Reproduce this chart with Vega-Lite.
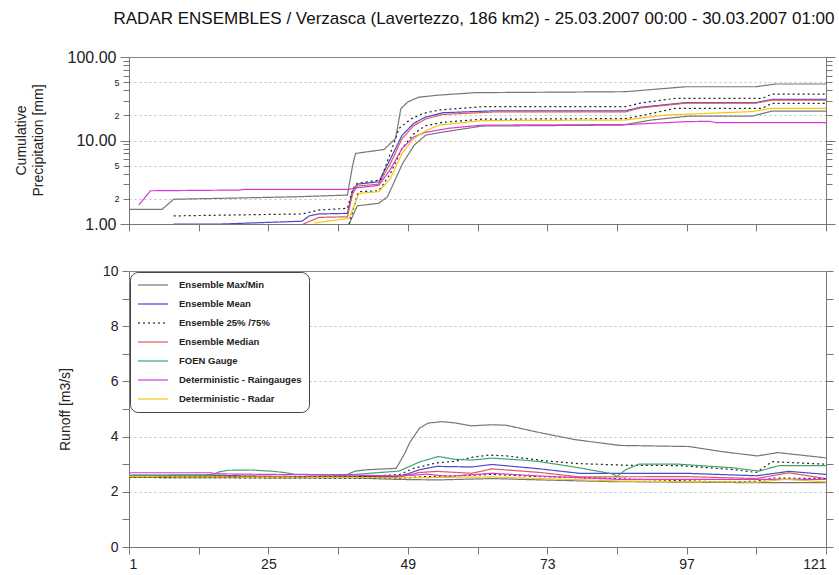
{
  "$schema": "https://vega.github.io/schema/vega-lite/v6.json",
  "background": "white",
  "padding": {"left": 13, "top": 9, "right": 5, "bottom": 5},
  "title": {"text": "RADAR ENSEMBLES / Verzasca (Lavertezzo, 186 km2) - 25.03.2007 00:00 - 30.03.2007 01:00", "fontSize": 17, "font": "Liberation Sans", "fontWeight": "normal", "color": "#111", "anchor": "start", "dx": 100, "offset": 21},
  "config": {
    "font": "Liberation Sans",
    "view": {"stroke": "#888"},
    "axis": {"domainColor": "#777", "tickColor": "#777", "labelColor": "#222", "labelFont": "Liberation Sans", "titleFont": "Liberation Sans", "titleFontWeight": "normal", "titleColor": "#222", "gridColor": "#c0c0c0", "gridDash": [2, 3]}
  },
  "datasets": {
    "pre": [
      {"s": "Ensemble Max/Min", "l": "max", "x": 1, "y": 1.5},
      {"s": "Ensemble Max/Min", "l": "max", "x": 6.7, "y": 1.5},
      {"s": "Ensemble Max/Min", "l": "max", "x": 8.7, "y": 1.98},
      {"s": "Ensemble Max/Min", "l": "max", "x": 20, "y": 2.05},
      {"s": "Ensemble Max/Min", "l": "max", "x": 30, "y": 2.12},
      {"s": "Ensemble Max/Min", "l": "max", "x": 38.6, "y": 2.22},
      {"s": "Ensemble Max/Min", "l": "max", "x": 39.5, "y": 5},
      {"s": "Ensemble Max/Min", "l": "max", "x": 40, "y": 7},
      {"s": "Ensemble Max/Min", "l": "max", "x": 44.9, "y": 7.8},
      {"s": "Ensemble Max/Min", "l": "max", "x": 46.9, "y": 10.6},
      {"s": "Ensemble Max/Min", "l": "max", "x": 47.8, "y": 24},
      {"s": "Ensemble Max/Min", "l": "max", "x": 49, "y": 29},
      {"s": "Ensemble Max/Min", "l": "max", "x": 50.9, "y": 33},
      {"s": "Ensemble Max/Min", "l": "max", "x": 54.4, "y": 35},
      {"s": "Ensemble Max/Min", "l": "max", "x": 60.7, "y": 37.4},
      {"s": "Ensemble Max/Min", "l": "max", "x": 86.5, "y": 38.4},
      {"s": "Ensemble Max/Min", "l": "max", "x": 96.8, "y": 44},
      {"s": "Ensemble Max/Min", "l": "max", "x": 108.9, "y": 44},
      {"s": "Ensemble Max/Min", "l": "max", "x": 112.3, "y": 47.5},
      {"s": "Ensemble Max/Min", "l": "max", "x": 121, "y": 47.5},
      {"s": "Ensemble Max/Min", "l": "min", "x": 38.9, "y": 1.0},
      {"s": "Ensemble Max/Min", "l": "min", "x": 40.3, "y": 1.65},
      {"s": "Ensemble Max/Min", "l": "min", "x": 44, "y": 1.77},
      {"s": "Ensemble Max/Min", "l": "min", "x": 45.5, "y": 2.12},
      {"s": "Ensemble Max/Min", "l": "min", "x": 48.1, "y": 5.3},
      {"s": "Ensemble Max/Min", "l": "min", "x": 50.1, "y": 8.8},
      {"s": "Ensemble Max/Min", "l": "min", "x": 52.1, "y": 11.6},
      {"s": "Ensemble Max/Min", "l": "min", "x": 54.4, "y": 12.4},
      {"s": "Ensemble Max/Min", "l": "min", "x": 57.2, "y": 13.3},
      {"s": "Ensemble Max/Min", "l": "min", "x": 61.8, "y": 14.9},
      {"s": "Ensemble Max/Min", "l": "min", "x": 85.9, "y": 15.3},
      {"s": "Ensemble Max/Min", "l": "min", "x": 91, "y": 17.6},
      {"s": "Ensemble Max/Min", "l": "min", "x": 97.4, "y": 19.6},
      {"s": "Ensemble Max/Min", "l": "min", "x": 108.3, "y": 19.6},
      {"s": "Ensemble Max/Min", "l": "min", "x": 111.7, "y": 22.5},
      {"s": "Ensemble Max/Min", "l": "min", "x": 121, "y": 22.5},
      {"s": "Ensemble Mean", "l": "mean", "x": 8.7, "y": 1.0},
      {"s": "Ensemble Mean", "l": "mean", "x": 17, "y": 1.0},
      {"s": "Ensemble Mean", "l": "mean", "x": 30.8, "y": 1.08},
      {"s": "Ensemble Mean", "l": "mean", "x": 32, "y": 1.25},
      {"s": "Ensemble Mean", "l": "mean", "x": 33.7, "y": 1.32},
      {"s": "Ensemble Mean", "l": "mean", "x": 38.6, "y": 1.34},
      {"s": "Ensemble Mean", "l": "mean", "x": 39.5, "y": 2.5},
      {"s": "Ensemble Mean", "l": "mean", "x": 40.3, "y": 3.0},
      {"s": "Ensemble Mean", "l": "mean", "x": 44, "y": 3.2},
      {"s": "Ensemble Mean", "l": "mean", "x": 46, "y": 6},
      {"s": "Ensemble Mean", "l": "mean", "x": 48, "y": 11.5},
      {"s": "Ensemble Mean", "l": "mean", "x": 50, "y": 16},
      {"s": "Ensemble Mean", "l": "mean", "x": 52, "y": 19},
      {"s": "Ensemble Mean", "l": "mean", "x": 55, "y": 21.5},
      {"s": "Ensemble Mean", "l": "mean", "x": 64, "y": 22.7},
      {"s": "Ensemble Mean", "l": "mean", "x": 86.5, "y": 22.7},
      {"s": "Ensemble Mean", "l": "mean", "x": 89, "y": 25},
      {"s": "Ensemble Mean", "l": "mean", "x": 96.8, "y": 28.4},
      {"s": "Ensemble Mean", "l": "mean", "x": 108.9, "y": 28.4},
      {"s": "Ensemble Mean", "l": "mean", "x": 111.7, "y": 31},
      {"s": "Ensemble Mean", "l": "mean", "x": 121, "y": 31},
      {"s": "Ensemble Median", "l": "med", "x": 31, "y": 1.0},
      {"s": "Ensemble Median", "l": "med", "x": 33.7, "y": 1.2},
      {"s": "Ensemble Median", "l": "med", "x": 38.6, "y": 1.22},
      {"s": "Ensemble Median", "l": "med", "x": 39.5, "y": 2.3},
      {"s": "Ensemble Median", "l": "med", "x": 40.3, "y": 2.85},
      {"s": "Ensemble Median", "l": "med", "x": 44, "y": 3.0},
      {"s": "Ensemble Median", "l": "med", "x": 46, "y": 5.3},
      {"s": "Ensemble Median", "l": "med", "x": 48, "y": 10.5},
      {"s": "Ensemble Median", "l": "med", "x": 50, "y": 15},
      {"s": "Ensemble Median", "l": "med", "x": 52, "y": 18},
      {"s": "Ensemble Median", "l": "med", "x": 55, "y": 20.5},
      {"s": "Ensemble Median", "l": "med", "x": 64, "y": 22},
      {"s": "Ensemble Median", "l": "med", "x": 86.5, "y": 22},
      {"s": "Ensemble Median", "l": "med", "x": 89, "y": 24.5},
      {"s": "Ensemble Median", "l": "med", "x": 96.8, "y": 28},
      {"s": "Ensemble Median", "l": "med", "x": 108.9, "y": 28},
      {"s": "Ensemble Median", "l": "med", "x": 111.7, "y": 30.5},
      {"s": "Ensemble Median", "l": "med", "x": 121, "y": 30.5},
      {"s": "Ensemble 25% /75%", "l": "p75", "x": 8.7, "y": 1.25},
      {"s": "Ensemble 25% /75%", "l": "p75", "x": 30.8, "y": 1.32},
      {"s": "Ensemble 25% /75%", "l": "p75", "x": 33.7, "y": 1.47},
      {"s": "Ensemble 25% /75%", "l": "p75", "x": 38.6, "y": 1.54},
      {"s": "Ensemble 25% /75%", "l": "p75", "x": 39.5, "y": 2.6},
      {"s": "Ensemble 25% /75%", "l": "p75", "x": 40.3, "y": 3.07},
      {"s": "Ensemble 25% /75%", "l": "p75", "x": 44.3, "y": 3.37},
      {"s": "Ensemble 25% /75%", "l": "p75", "x": 46, "y": 7},
      {"s": "Ensemble 25% /75%", "l": "p75", "x": 47.5, "y": 14},
      {"s": "Ensemble 25% /75%", "l": "p75", "x": 49.5, "y": 18},
      {"s": "Ensemble 25% /75%", "l": "p75", "x": 51.5, "y": 21},
      {"s": "Ensemble 25% /75%", "l": "p75", "x": 54.4, "y": 23.2},
      {"s": "Ensemble 25% /75%", "l": "p75", "x": 61.8, "y": 25.4},
      {"s": "Ensemble 25% /75%", "l": "p75", "x": 86.5, "y": 25.4},
      {"s": "Ensemble 25% /75%", "l": "p75", "x": 88.8, "y": 27.9},
      {"s": "Ensemble 25% /75%", "l": "p75", "x": 95.1, "y": 32},
      {"s": "Ensemble 25% /75%", "l": "p75", "x": 110, "y": 32},
      {"s": "Ensemble 25% /75%", "l": "p75", "x": 111.7, "y": 36},
      {"s": "Ensemble 25% /75%", "l": "p75", "x": 121, "y": 36},
      {"s": "Ensemble 25% /75%", "l": "p25", "x": 38.9, "y": 1.0},
      {"s": "Ensemble 25% /75%", "l": "p25", "x": 40.3, "y": 2.2},
      {"s": "Ensemble 25% /75%", "l": "p25", "x": 40.6, "y": 2.44},
      {"s": "Ensemble 25% /75%", "l": "p25", "x": 44, "y": 2.5},
      {"s": "Ensemble 25% /75%", "l": "p25", "x": 46, "y": 4},
      {"s": "Ensemble 25% /75%", "l": "p25", "x": 48, "y": 8},
      {"s": "Ensemble 25% /75%", "l": "p25", "x": 50, "y": 12},
      {"s": "Ensemble 25% /75%", "l": "p25", "x": 52, "y": 15},
      {"s": "Ensemble 25% /75%", "l": "p25", "x": 55, "y": 16.5},
      {"s": "Ensemble 25% /75%", "l": "p25", "x": 61.8, "y": 18},
      {"s": "Ensemble 25% /75%", "l": "p25", "x": 86.5, "y": 18.3},
      {"s": "Ensemble 25% /75%", "l": "p25", "x": 88.8, "y": 19.6},
      {"s": "Ensemble 25% /75%", "l": "p25", "x": 95.1, "y": 24.3},
      {"s": "Ensemble 25% /75%", "l": "p25", "x": 110, "y": 24.3},
      {"s": "Ensemble 25% /75%", "l": "p25", "x": 111.7, "y": 27.9},
      {"s": "Ensemble 25% /75%", "l": "p25", "x": 121, "y": 27.9},
      {"s": "Deterministic - Raingauges", "l": "rg", "x": 2.7, "y": 1.69},
      {"s": "Deterministic - Raingauges", "l": "rg", "x": 4.7, "y": 2.5},
      {"s": "Deterministic - Raingauges", "l": "rg", "x": 19.9, "y": 2.55},
      {"s": "Deterministic - Raingauges", "l": "rg", "x": 21, "y": 2.6},
      {"s": "Deterministic - Raingauges", "l": "rg", "x": 38.9, "y": 2.6},
      {"s": "Deterministic - Raingauges", "l": "rg", "x": 40, "y": 2.7},
      {"s": "Deterministic - Raingauges", "l": "rg", "x": 44, "y": 2.9},
      {"s": "Deterministic - Raingauges", "l": "rg", "x": 46, "y": 4.5},
      {"s": "Deterministic - Raingauges", "l": "rg", "x": 48, "y": 8},
      {"s": "Deterministic - Raingauges", "l": "rg", "x": 50, "y": 11},
      {"s": "Deterministic - Raingauges", "l": "rg", "x": 52, "y": 12.5},
      {"s": "Deterministic - Raingauges", "l": "rg", "x": 56, "y": 14},
      {"s": "Deterministic - Raingauges", "l": "rg", "x": 61.8, "y": 15.3},
      {"s": "Deterministic - Raingauges", "l": "rg", "x": 86.5, "y": 15.5},
      {"s": "Deterministic - Raingauges", "l": "rg", "x": 96.8, "y": 16.8},
      {"s": "Deterministic - Raingauges", "l": "rg", "x": 101, "y": 17},
      {"s": "Deterministic - Raingauges", "l": "rg", "x": 102, "y": 16.4},
      {"s": "Deterministic - Raingauges", "l": "rg", "x": 121, "y": 16.4},
      {"s": "Deterministic - Radar", "l": "rd", "x": 32.9, "y": 1.03},
      {"s": "Deterministic - Radar", "l": "rd", "x": 38.9, "y": 1.17},
      {"s": "Deterministic - Radar", "l": "rd", "x": 40.6, "y": 2.33},
      {"s": "Deterministic - Radar", "l": "rd", "x": 44, "y": 2.44},
      {"s": "Deterministic - Radar", "l": "rd", "x": 46, "y": 3.5},
      {"s": "Deterministic - Radar", "l": "rd", "x": 48, "y": 7},
      {"s": "Deterministic - Radar", "l": "rd", "x": 50, "y": 10.5},
      {"s": "Deterministic - Radar", "l": "rd", "x": 52, "y": 13},
      {"s": "Deterministic - Radar", "l": "rd", "x": 54.4, "y": 15.3},
      {"s": "Deterministic - Radar", "l": "rd", "x": 61.8, "y": 17.3},
      {"s": "Deterministic - Radar", "l": "rd", "x": 86.5, "y": 17.6},
      {"s": "Deterministic - Radar", "l": "rd", "x": 93.4, "y": 20.2},
      {"s": "Deterministic - Radar", "l": "rd", "x": 108.3, "y": 22.2},
      {"s": "Deterministic - Radar", "l": "rd", "x": 111.7, "y": 24.3},
      {"s": "Deterministic - Radar", "l": "rd", "x": 121, "y": 24.3}
    ],
    "run": [
      {"s": "Ensemble Max/Min", "l": "max", "x": 1, "y": 2.6},
      {"s": "Ensemble Max/Min", "l": "max", "x": 15, "y": 2.6},
      {"s": "Ensemble Max/Min", "l": "max", "x": 30, "y": 2.55},
      {"s": "Ensemble Max/Min", "l": "max", "x": 38, "y": 2.58},
      {"s": "Ensemble Max/Min", "l": "max", "x": 40, "y": 2.75},
      {"s": "Ensemble Max/Min", "l": "max", "x": 42, "y": 2.8},
      {"s": "Ensemble Max/Min", "l": "max", "x": 47, "y": 2.85},
      {"s": "Ensemble Max/Min", "l": "max", "x": 48.5, "y": 3.4},
      {"s": "Ensemble Max/Min", "l": "max", "x": 49.3, "y": 3.77},
      {"s": "Ensemble Max/Min", "l": "max", "x": 51, "y": 4.3},
      {"s": "Ensemble Max/Min", "l": "max", "x": 52.5, "y": 4.49},
      {"s": "Ensemble Max/Min", "l": "max", "x": 54.9, "y": 4.54},
      {"s": "Ensemble Max/Min", "l": "max", "x": 57, "y": 4.5},
      {"s": "Ensemble Max/Min", "l": "max", "x": 59.9, "y": 4.39},
      {"s": "Ensemble Max/Min", "l": "max", "x": 63.5, "y": 4.43},
      {"s": "Ensemble Max/Min", "l": "max", "x": 66, "y": 4.41},
      {"s": "Ensemble Max/Min", "l": "max", "x": 71.8, "y": 4.14},
      {"s": "Ensemble Max/Min", "l": "max", "x": 77.8, "y": 3.89},
      {"s": "Ensemble Max/Min", "l": "max", "x": 85.5, "y": 3.68},
      {"s": "Ensemble Max/Min", "l": "max", "x": 97.4, "y": 3.64},
      {"s": "Ensemble Max/Min", "l": "max", "x": 103.3, "y": 3.45},
      {"s": "Ensemble Max/Min", "l": "max", "x": 109.2, "y": 3.3},
      {"s": "Ensemble Max/Min", "l": "max", "x": 112.7, "y": 3.42},
      {"s": "Ensemble Max/Min", "l": "max", "x": 121, "y": 3.23},
      {"s": "Ensemble Max/Min", "l": "min", "x": 1, "y": 2.52},
      {"s": "Ensemble Max/Min", "l": "min", "x": 40, "y": 2.5},
      {"s": "Ensemble Max/Min", "l": "min", "x": 47, "y": 2.45},
      {"s": "Ensemble Max/Min", "l": "min", "x": 54, "y": 2.43},
      {"s": "Ensemble Max/Min", "l": "min", "x": 63.5, "y": 2.48},
      {"s": "Ensemble Max/Min", "l": "min", "x": 72, "y": 2.43},
      {"s": "Ensemble Max/Min", "l": "min", "x": 84, "y": 2.37},
      {"s": "Ensemble Max/Min", "l": "min", "x": 109, "y": 2.33},
      {"s": "Ensemble Max/Min", "l": "min", "x": 121, "y": 2.33},
      {"s": "Ensemble Mean", "l": "mean", "x": 1, "y": 2.56},
      {"s": "Ensemble Mean", "l": "mean", "x": 40, "y": 2.55},
      {"s": "Ensemble Mean", "l": "mean", "x": 47, "y": 2.55},
      {"s": "Ensemble Mean", "l": "mean", "x": 49, "y": 2.65},
      {"s": "Ensemble Mean", "l": "mean", "x": 51, "y": 2.8},
      {"s": "Ensemble Mean", "l": "mean", "x": 54, "y": 2.92},
      {"s": "Ensemble Mean", "l": "mean", "x": 60, "y": 2.9},
      {"s": "Ensemble Mean", "l": "mean", "x": 63.5, "y": 2.99},
      {"s": "Ensemble Mean", "l": "mean", "x": 71.8, "y": 2.83},
      {"s": "Ensemble Mean", "l": "mean", "x": 78.5, "y": 2.67},
      {"s": "Ensemble Mean", "l": "mean", "x": 97, "y": 2.67},
      {"s": "Ensemble Mean", "l": "mean", "x": 109, "y": 2.58},
      {"s": "Ensemble Mean", "l": "mean", "x": 114.6, "y": 2.74},
      {"s": "Ensemble Mean", "l": "mean", "x": 121, "y": 2.63},
      {"s": "Ensemble Median", "l": "med", "x": 1, "y": 2.55},
      {"s": "Ensemble Median", "l": "med", "x": 47, "y": 2.52},
      {"s": "Ensemble Median", "l": "med", "x": 49, "y": 2.6},
      {"s": "Ensemble Median", "l": "med", "x": 51, "y": 2.7},
      {"s": "Ensemble Median", "l": "med", "x": 54, "y": 2.74},
      {"s": "Ensemble Median", "l": "med", "x": 60, "y": 2.67},
      {"s": "Ensemble Median", "l": "med", "x": 63.5, "y": 2.83},
      {"s": "Ensemble Median", "l": "med", "x": 71.8, "y": 2.7},
      {"s": "Ensemble Median", "l": "med", "x": 78.5, "y": 2.54},
      {"s": "Ensemble Median", "l": "med", "x": 97, "y": 2.55},
      {"s": "Ensemble Median", "l": "med", "x": 109, "y": 2.48},
      {"s": "Ensemble Median", "l": "med", "x": 114.6, "y": 2.69},
      {"s": "Ensemble Median", "l": "med", "x": 121, "y": 2.48},
      {"s": "Ensemble 25% /75%", "l": "p75", "x": 1, "y": 2.56},
      {"s": "Ensemble 25% /75%", "l": "p75", "x": 40, "y": 2.55},
      {"s": "Ensemble 25% /75%", "l": "p75", "x": 47.5, "y": 2.62},
      {"s": "Ensemble 25% /75%", "l": "p75", "x": 50, "y": 2.85},
      {"s": "Ensemble 25% /75%", "l": "p75", "x": 54, "y": 3.05},
      {"s": "Ensemble 25% /75%", "l": "p75", "x": 57, "y": 3.1},
      {"s": "Ensemble 25% /75%", "l": "p75", "x": 60, "y": 3.25},
      {"s": "Ensemble 25% /75%", "l": "p75", "x": 63, "y": 3.33},
      {"s": "Ensemble 25% /75%", "l": "p75", "x": 66, "y": 3.3},
      {"s": "Ensemble 25% /75%", "l": "p75", "x": 72.7, "y": 3.12},
      {"s": "Ensemble 25% /75%", "l": "p75", "x": 78.5, "y": 3.02},
      {"s": "Ensemble 25% /75%", "l": "p75", "x": 87, "y": 2.96},
      {"s": "Ensemble 25% /75%", "l": "p75", "x": 95.7, "y": 2.95},
      {"s": "Ensemble 25% /75%", "l": "p75", "x": 104.8, "y": 2.81},
      {"s": "Ensemble 25% /75%", "l": "p75", "x": 109, "y": 2.7},
      {"s": "Ensemble 25% /75%", "l": "p75", "x": 111.7, "y": 3.09},
      {"s": "Ensemble 25% /75%", "l": "p75", "x": 121, "y": 3.0},
      {"s": "Ensemble 25% /75%", "l": "p25", "x": 1, "y": 2.52},
      {"s": "Ensemble 25% /75%", "l": "p25", "x": 47.5, "y": 2.49},
      {"s": "Ensemble 25% /75%", "l": "p25", "x": 52, "y": 2.55},
      {"s": "Ensemble 25% /75%", "l": "p25", "x": 56, "y": 2.57},
      {"s": "Ensemble 25% /75%", "l": "p25", "x": 63.5, "y": 2.63},
      {"s": "Ensemble 25% /75%", "l": "p25", "x": 72, "y": 2.55},
      {"s": "Ensemble 25% /75%", "l": "p25", "x": 84, "y": 2.48},
      {"s": "Ensemble 25% /75%", "l": "p25", "x": 103, "y": 2.36},
      {"s": "Ensemble 25% /75%", "l": "p25", "x": 109, "y": 2.38},
      {"s": "Ensemble 25% /75%", "l": "p25", "x": 112, "y": 2.5},
      {"s": "Ensemble 25% /75%", "l": "p25", "x": 121, "y": 2.48},
      {"s": "FOEN Gauge", "l": "foen", "x": 1, "y": 2.6},
      {"s": "FOEN Gauge", "l": "foen", "x": 15.3, "y": 2.62},
      {"s": "FOEN Gauge", "l": "foen", "x": 16.5, "y": 2.72},
      {"s": "FOEN Gauge", "l": "foen", "x": 18, "y": 2.78},
      {"s": "FOEN Gauge", "l": "foen", "x": 22, "y": 2.79},
      {"s": "FOEN Gauge", "l": "foen", "x": 26, "y": 2.74},
      {"s": "FOEN Gauge", "l": "foen", "x": 28, "y": 2.69},
      {"s": "FOEN Gauge", "l": "foen", "x": 29.7, "y": 2.63},
      {"s": "FOEN Gauge", "l": "foen", "x": 39.4, "y": 2.62},
      {"s": "FOEN Gauge", "l": "foen", "x": 43, "y": 2.68},
      {"s": "FOEN Gauge", "l": "foen", "x": 47.5, "y": 2.75},
      {"s": "FOEN Gauge", "l": "foen", "x": 51, "y": 3.08},
      {"s": "FOEN Gauge", "l": "foen", "x": 54.3, "y": 3.28},
      {"s": "FOEN Gauge", "l": "foen", "x": 57, "y": 3.18},
      {"s": "FOEN Gauge", "l": "foen", "x": 60, "y": 3.15},
      {"s": "FOEN Gauge", "l": "foen", "x": 63.5, "y": 3.22},
      {"s": "FOEN Gauge", "l": "foen", "x": 68.8, "y": 3.15},
      {"s": "FOEN Gauge", "l": "foen", "x": 71.5, "y": 3.1},
      {"s": "FOEN Gauge", "l": "foen", "x": 78.5, "y": 2.87},
      {"s": "FOEN Gauge", "l": "foen", "x": 84.2, "y": 2.65},
      {"s": "FOEN Gauge", "l": "foen", "x": 85, "y": 2.55},
      {"s": "FOEN Gauge", "l": "foen", "x": 86.5, "y": 2.8},
      {"s": "FOEN Gauge", "l": "foen", "x": 88.8, "y": 3.0},
      {"s": "FOEN Gauge", "l": "foen", "x": 95.7, "y": 3.0},
      {"s": "FOEN Gauge", "l": "foen", "x": 104.9, "y": 2.87},
      {"s": "FOEN Gauge", "l": "foen", "x": 109.5, "y": 2.75},
      {"s": "FOEN Gauge", "l": "foen", "x": 112.9, "y": 2.95},
      {"s": "FOEN Gauge", "l": "foen", "x": 121, "y": 2.95},
      {"s": "Deterministic - Raingauges", "l": "rg", "x": 1, "y": 2.69},
      {"s": "Deterministic - Raingauges", "l": "rg", "x": 15, "y": 2.69},
      {"s": "Deterministic - Raingauges", "l": "rg", "x": 16, "y": 2.65},
      {"s": "Deterministic - Raingauges", "l": "rg", "x": 30, "y": 2.62},
      {"s": "Deterministic - Raingauges", "l": "rg", "x": 40, "y": 2.6},
      {"s": "Deterministic - Raingauges", "l": "rg", "x": 47, "y": 2.58},
      {"s": "Deterministic - Raingauges", "l": "rg", "x": 50, "y": 2.6},
      {"s": "Deterministic - Raingauges", "l": "rg", "x": 52.2, "y": 2.64},
      {"s": "Deterministic - Raingauges", "l": "rg", "x": 56, "y": 2.56},
      {"s": "Deterministic - Raingauges", "l": "rg", "x": 63.5, "y": 2.67},
      {"s": "Deterministic - Raingauges", "l": "rg", "x": 71.8, "y": 2.57},
      {"s": "Deterministic - Raingauges", "l": "rg", "x": 85.5, "y": 2.45},
      {"s": "Deterministic - Raingauges", "l": "rg", "x": 121, "y": 2.45},
      {"s": "Deterministic - Radar", "l": "rd", "x": 1, "y": 2.55},
      {"s": "Deterministic - Radar", "l": "rd", "x": 40, "y": 2.52},
      {"s": "Deterministic - Radar", "l": "rd", "x": 47, "y": 2.5},
      {"s": "Deterministic - Radar", "l": "rd", "x": 54, "y": 2.52},
      {"s": "Deterministic - Radar", "l": "rd", "x": 63.5, "y": 2.54},
      {"s": "Deterministic - Radar", "l": "rd", "x": 72, "y": 2.48},
      {"s": "Deterministic - Radar", "l": "rd", "x": 85.5, "y": 2.39},
      {"s": "Deterministic - Radar", "l": "rd", "x": 109, "y": 2.35},
      {"s": "Deterministic - Radar", "l": "rd", "x": 114, "y": 2.45},
      {"s": "Deterministic - Radar", "l": "rd", "x": 121, "y": 2.36}
    ]
  },
  "spacing": 30,
  "resolve": {"scale": {"color": "independent", "strokeDash": "independent"}, "legend": {"color": "independent", "strokeDash": "independent"}},
  "vconcat": [
    {
      "width": 697,
      "height": 167,
      "data": {"name": "pre"},
      "layer": [
        {
          "mark": {"type": "line", "clip": true, "strokeWidth": 1.2},
          "encoding": {
            "x": {"field": "x", "type": "quantitative", "scale": {"domain": [1, 121], "nice": false, "zero": false},
              "axis": {"values": [1,7,13,19,25,31,37,43,49,55,61,67,73,79,85,91,97,103,109,115,121], "labels": false, "tickSize": 7, "grid": false, "title": null}},
            "y": {"field": "y", "type": "quantitative", "scale": {"type": "log", "domain": [1, 100], "nice": false},
              "axis": {"values": [1,2,3,4,5,6,7,8,9,10,20,30,40,50,60,70,80,90,100],
                "labelExpr": "datum.value==1||datum.value==10||datum.value==100 ? format(datum.value,'.2f') : (datum.value==2||datum.value==20 ? '2' : (datum.value==5||datum.value==50 ? '5' : ''))",
                "labelFontSize": {"condition": {"test": "datum.value==1||datum.value==10||datum.value==100", "value": 16}, "value": 9},
                "tickSize": {"condition": {"test": "datum.value==1||datum.value==10||datum.value==100", "value": 9}, "value": 6},
                "grid": true,
                "gridOpacity": {"condition": {"test": "datum.value==2||datum.value==5||datum.value==10||datum.value==20||datum.value==50", "value": 1}, "value": 0},
                "labelPadding": 4,
                "title": ["Cumulative", "Precipitation [mm]"], "titleFontSize": 14, "titleLineHeight": 17,
                "titleX": -108, "titleY": 83, "titleAngle": 270, "titleAlign": "center", "titleBaseline": "middle"}},
            "color": {"field": "s", "type": "nominal",
              "scale": {"domain": ["Ensemble Max/Min", "Ensemble Mean", "Ensemble 25% /75%", "Ensemble Median", "FOEN Gauge", "Deterministic - Raingauges", "Deterministic - Radar"],
                "range": ["#777777", "#4848d0", "#222222", "#e05a5a", "#3fa56a", "#d838d8", "#f0c810"]}, "legend": null},
            "strokeDash": {"field": "s", "type": "nominal",
              "scale": {"domain": ["Ensemble Max/Min", "Ensemble Mean", "Ensemble 25% /75%", "Ensemble Median", "FOEN Gauge", "Deterministic - Raingauges", "Deterministic - Radar"],
                "range": [[1, 0], [1, 0], [2, 3], [1, 0], [1, 0], [1, 0], [1, 0]]}, "legend": null},
            "detail": {"field": "l", "type": "nominal"}
          }
        },
        {
          "mark": {"type": "line", "opacity": 0},
          "encoding": {
            "x": {"field": "x", "type": "quantitative"},
            "y": {"field": "y", "type": "quantitative",
              "axis": {"orient": "right", "values": [1,2,3,4,5,6,7,8,9,10,20,30,40,50,60,70,80,90,100], "labels": false, "grid": false, "title": null,
                "tickSize": {"condition": {"test": "datum.value==1||datum.value==10||datum.value==100", "value": 9}, "value": 6}}},
            "detail": {"field": "l", "type": "nominal"}
          }
        }
      ],
      "resolve": {"axis": {"y": "independent"}}
    },
    {
      "width": 697,
      "height": 276,
      "data": {"name": "run"},
      "layer": [
        {
          "mark": {"type": "line", "clip": true, "strokeWidth": 1.2},
          "encoding": {
            "x": {"field": "x", "type": "quantitative", "scale": {"domain": [1, 121], "nice": false, "zero": false},
              "axis": {"values": [1,7,13,19,25,31,37,43,49,55,61,67,73,79,85,91,97,103,109,115,121], "labelExpr": "(datum.value-1)%24==0 ? datum.label : ''", "labelFontSize": 14, "tickSize": 7, "labelPadding": 3, "grid": false, "title": null}},
            "y": {"field": "y", "type": "quantitative", "scale": {"domain": [0, 10], "nice": false},
              "axis": {"values": [0,1,2,3,4,5,6,7,8,9,10],
                "labelExpr": "datum.value%2==0 ? datum.label : ''",
                "labelFontSize": 14, "tickSize": 7, "labelPadding": 4,
                "grid": true,
                "gridOpacity": {"condition": {"test": "datum.value%2==0 && datum.value>0 && datum.value<10", "value": 1}, "value": 0},
                "title": "Runoff [m3/s]", "titleFontSize": 14,
                "titleX": -64, "titleY": 138, "titleAngle": 270, "titleAlign": "center", "titleBaseline": "middle"}},
            "color": {"field": "s", "type": "nominal",
              "scale": {"domain": ["Ensemble Max/Min", "Ensemble Mean", "Ensemble 25% /75%", "Ensemble Median", "FOEN Gauge", "Deterministic - Raingauges", "Deterministic - Radar"],
                "range": ["#777777", "#4848d0", "#222222", "#e05a5a", "#3fa56a", "#d838d8", "#f0c810"]},
              "legend": {"orient": "top-left", "title": null, "offset": 1, "padding": 7, "cornerRadius": 8, "strokeColor": "#444", "fillColor": "white",
                "symbolType": "stroke", "symbolSize": 900, "symbolStrokeWidth": 2, "symbolOpacity": 0.6, "symbolOffset": 0, "labelFontSize": 9.5, "labelFontWeight": "bold", "labelColor": "#222", "labelOffset": 10, "clipHeight": 12, "rowPadding": 7}},
            "strokeDash": {"field": "s", "type": "nominal",
              "scale": {"domain": ["Ensemble Max/Min", "Ensemble Mean", "Ensemble 25% /75%", "Ensemble Median", "FOEN Gauge", "Deterministic - Raingauges", "Deterministic - Radar"],
                "range": [[1, 0], [1, 0], [2, 3], [1, 0], [1, 0], [1, 0], [1, 0]]},
              "legend": {"orient": "top-left", "title": null, "offset": 1, "padding": 7, "cornerRadius": 8, "strokeColor": "#444", "fillColor": "white",
                "symbolType": "stroke", "symbolSize": 900, "symbolStrokeWidth": 2, "symbolOpacity": 0.6, "symbolOffset": 0, "labelFontSize": 9.5, "labelFontWeight": "bold", "labelColor": "#222", "labelOffset": 10, "clipHeight": 12, "rowPadding": 7}},
            "detail": {"field": "l", "type": "nominal"}
          }
        },
        {
          "mark": {"type": "line", "opacity": 0},
          "encoding": {
            "x": {"field": "x", "type": "quantitative"},
            "y": {"field": "y", "type": "quantitative",
              "axis": {"orient": "right", "values": [0,1,2,3,4,5,6,7,8,9,10], "labels": false, "grid": false, "title": null, "tickSize": 7}},
            "detail": {"field": "l", "type": "nominal"}
          }
        }
      ],
      "resolve": {"axis": {"y": "independent"}}
    }
  ]
}
